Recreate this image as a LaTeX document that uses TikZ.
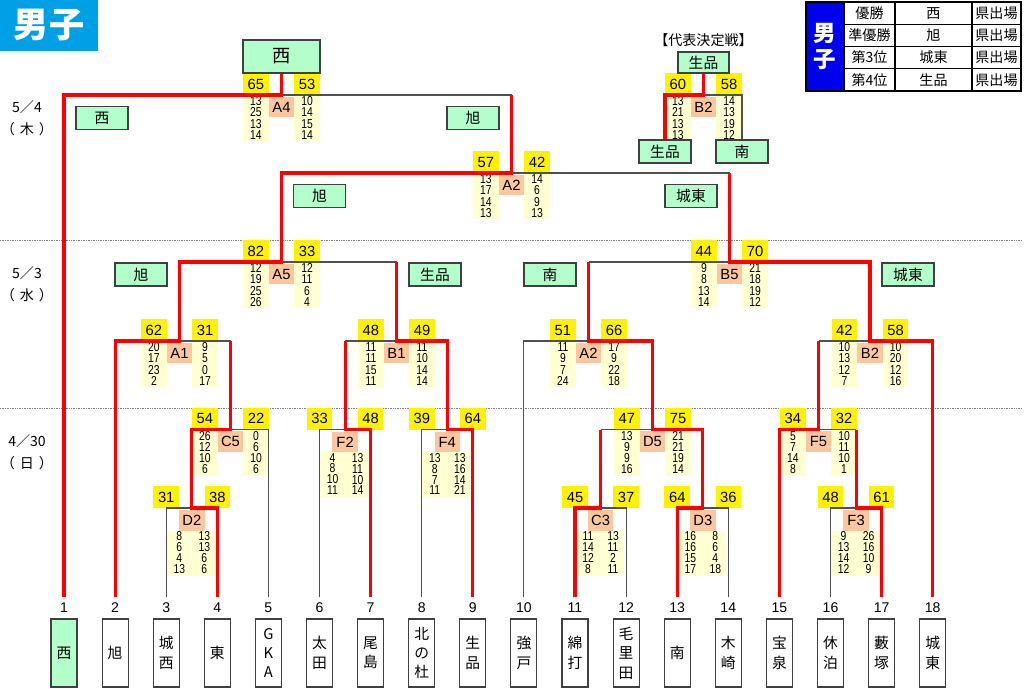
\documentclass[tikz,border=0pt]{standalone}
\usepackage{tikz}
\usepackage{fontspec}
\setmainfont{Noto Sans CJK JP}
\newfontfamily\numfont{Liberation Sans}
\newfontfamily\qtrfont{Liberation Sans}[FakeStretch=0.8]
\definecolor{titleblue}{HTML}{00A0E6}
\definecolor{legblue}{HTML}{0000F0}
\definecolor{mint}{HTML}{B3FFCC}
\definecolor{peach}{HTML}{FCC79F}
\definecolor{pale}{HTML}{FFFFD2}
\definecolor{linegray}{HTML}{505050}
\definecolor{boxgray}{HTML}{404040}

\begin{document}
\begin{tikzpicture}[x=0.025cm,y=-0.025cm,
	win/.style={draw=red,line width=2.2pt},
	lose/.style={draw=linegray,line width=0.8pt},
	daysep/.style={draw=gray,line width=0.6pt,dash pattern=on 0.6pt off 0.6pt},
	team/.style={draw=boxgray,fill=mint,line width=0.9pt,inner sep=0pt,minimum width=1.3cm,minimum height=0.575cm,font=\fontsize{10.5}{12}\selectfont},
	sc/.style={fill=yellow,inner sep=0pt,minimum width=0.64cm,minimum height=0.54cm,font=\numfont\fontsize{10.5}{12}\selectfont},
	lab/.style={fill=peach,inner sep=0pt,minimum width=0.64cm,minimum height=0.51cm,font=\numfont\fontsize{10.5}{12}\selectfont},
	qcol/.style={fill=pale,inner sep=0pt,minimum width=0.64cm,minimum height=1.15cm,align=center,font=\qtrfont\fontsize{9.2}{8}\selectfont},
	qbox/.style={fill=pale,inner sep=0pt,minimum width=1.2cm,minimum height=1.125cm},
	qtxt/.style={inner sep=0pt,align=center,font=\qtrfont\fontsize{9.2}{7.8}\selectfont},
	entry/.style={draw=boxgray,line width=0.8pt,inner sep=0pt,minimum width=0.65cm,minimum height=1.7cm,align=center,font=\fontsize{10.5}{13.8}\selectfont},
	num/.style={inner sep=0pt,font=\numfont\fontsize{10}{12}\selectfont},
	date/.style={inner sep=0pt,font=\fontsize{10}{12}\selectfont},
	cell/.style={inner sep=0pt,font=\fontsize{10}{12}\selectfont}]

	\path[fill=white,use as bounding box] (0,0) rectangle (1024,689);

	\node[fill=titleblue,text=white,inner sep=0pt,minimum width=2.45cm,minimum height=1.275cm,font=\bfseries\fontsize{25}{25}\selectfont] (title) at (49,25.5) {男子};

	\draw[daysep] (0,240.5) -- (1022,240.5);
	\draw[daysep] (0,408) -- (1022,408);

	\node[date] (d1) at (27,107) {5／4};
	\node[date] (d1w) at (27,129) {（\hspace{0.35em}木\hspace{0.35em}）};
	\node[date] (d2) at (27,273) {5／3};
	\node[date] (d2w) at (27,295) {（\hspace{0.35em}水\hspace{0.35em}）};
	\node[date] (d3) at (27,441) {4／30};
	\node[date] (d3w) at (27,463) {（\hspace{0.35em}日\hspace{0.35em}）};

	\foreach \id/\cx/\ty/\lab/\sa/\sb/\qa/\qb in {
		A4/281.5/95/A4/65/53/{13\\25\\13\\14}/{10\\14\\15\\14},
		dB2/703.5/95/B2/60/58/{13\\21\\13\\13}/{14\\13\\19\\12},
		sA2/511.5/173/A2/57/42/{13\\17\\14\\13}/{14\\6\\9\\13},
		A5/281.5/262/A5/82/33/{12\\19\\25\\26}/{12\\11\\6\\4},
		B5/729.5/262/B5/44/70/{9\\8\\13\\14}/{21\\18\\19\\12},
		A1/179.5/341/A1/62/31/{20\\17\\23\\2}/{9\\5\\0\\17},
		B1/396.5/341/B1/48/49/{11\\11\\15\\11}/{11\\10\\14\\14},
		A2/588.5/341/A2/51/66/{11\\9\\7\\24}/{17\\9\\22\\18},
		B2/870/341/B2/42/58/{10\\13\\12\\7}/{10\\20\\12\\16},
		C5/230.5/429.5/C5/54/22/{26\\12\\10\\6}/{0\\6\\10\\6},
		D5/652.5/429.5/D5/47/75/{13\\9\\9\\16}/{21\\21\\19\\14},
		F5/818.5/429.5/F5/34/32/{5\\7\\14\\8}/{10\\11\\10\\1}}
	{
		\coordinate (\id) at (\cx,\ty);
		\node[sc] (\id-a) at (\cx-25.6,\ty-10.8) {\sa};
		\node[sc] (\id-b) at (\cx+25.6,\ty-10.8) {\sb};
		\node[lab] (\id-l) at (\cx,\ty+12) {\lab};
		\node[qcol] (\id-qa) at (\cx-25.6,\ty+23) {\qa};
		\node[qcol] (\id-qb) at (\cx+25.6,\ty+23) {\qb};
	}

	\foreach \id/\cx/\ty/\sa/\sb/\qa/\qb in {
		D2/191.8/508/31/38/{8\\6\\4\\13}/{13\\13\\6\\6},
		F2/345.1/429.5/33/48/{4\\8\\10\\11}/{13\\11\\10\\14},
		F4/447.3/429.5/39/64/{13\\8\\7\\11}/{13\\16\\14\\21},
		C3/600.6/508/45/37/{11\\14\\12\\8}/{13\\11\\2\\11},
		D3/702.8/508/64/36/{16\\16\\15\\17}/{8\\6\\4\\18},
		F3/856.1/508/48/61/{9\\13\\14\\12}/{26\\16\\10\\9}}
	{
		\coordinate (\id) at (\cx,\ty);
		\node[sc] (\id-a) at (\cx-25.55,\ty-10.8) {\sa};
		\node[sc] (\id-b) at (\cx+25.55,\ty-10.8) {\sb};
		\node[lab] (\id-l) at (\cx,\ty+12.5) {\id};
		\node[qbox] (\id-q) at (\cx-1,\ty+45.5) {};
		\node[qtxt] (\id-qa) at (\cx-12.5,\ty+44.5) {\qa};
		\node[qtxt] (\id-qb) at (\cx+12.5,\ty+44.5) {\qb};
	}

	\foreach \i/\name/\col in {1/西/mint,2/旭/white,3/城\\西/white,4/東/white,5/G\\K\\A/white,6/太\\田/white,7/尾\\島/white,8/北\\の\\杜/white,9/生\\品/white,10/強\\戸/white,11/綿\\打/white,12/毛\\里\\田/white,13/南/white,14/木\\崎/white,15/宝\\泉/white,16/休\\泊/white,17/藪\\塚/white,18/城\\東/white}
	{
		\coordinate (e\i) at ({64+51.1*(\i-1)},597);
		\node[num] (n\i) at ({64+51.1*(\i-1)},608) {\i};
		\node[entry,fill=\col] (t\i) at ({64+51.1*(\i-1)},653) {\name};
	}

	\node[team,minimum width=1.925cm,minimum height=0.825cm,font=\fontsize{13}{14}\selectfont] (champ) at (281.5,56.5) {西};
	\node[font=\fontsize{10}{12}\selectfont,inner sep=0pt] (dtitle) at (703.5,40) {【代表決定戦】};
	\node[team,minimum width=1.275cm,minimum height=0.525cm] (dw) at (703.5,62.5) {生品};
	\node[team] (dl) at (665,151.5) {生品};
	\node[team] (dr) at (742,151.5) {南};

	\foreach \id/\x/\y/\name in {lA4/102/118/西,rA4/473/118/旭,lsA2/319.5/196/旭,rsA2/691/196/城東,lA5/141/274.5/旭,rA5/435/274.5/生品,lB5/550/274.5/南,rB5/908/274.5/城東}
		\node[team] (\id) at (\x,\y) {\name};

	\draw[lose] (A4) -- (A4 -| sA2);
	\draw[lose] (sA2) -- (sA2 -| B5);
	\draw[lose] (A5) -- (A5 -| B1);
	\draw[lose] (B5) -- (B5 -| A2);
	\draw[lose] (A1) -- (A1 -| C5);
	\draw[lose] (B1) -- (B1 -| F2);
	\draw[lose] (B2) -- (B2 -| F5);
	\draw[lose] (D5) -- (D5 -| C3);
	\draw[lose] (F5) -- (F5 -| F3);
	\draw[lose] (e3) |- (D2);
	\draw[lose] (e5) |- (C5);
	\draw[lose] (e6) |- (F2);
	\draw[lose] (e8) |- (F4);
	\draw[lose] (e10) |- (A2);
	\draw[lose] (e12) |- (C3);
	\draw[lose] (e14) |- (D3);
	\draw[lose] (e16) |- (F3);
	\draw[lose] (dB2) -| (dr.north);

	\draw[win] (e1) |- (A4) -- (champ.south);
	\draw[win] (e2) |- (A1) |- (A5) |- (sA2) -- (sA2 |- A4);
	\draw[win] (e4) |- (D2) |- (C5) -- (C5 |- A1);
	\draw[win] (e7) |- (F2) -- (F2 |- B1);
	\draw[win] (e9) |- (F4) |- (B1) -- (B1 |- A5);
	\draw[win] (e11) |- (C3) -- (C3 |- D5);
	\draw[win] (e13) |- (D3) |- (D5) |- (A2) -- (A2 |- B5);
	\draw[win] (e15) |- (F5) -- (F5 |- B2);
	\draw[win] (e17) |- (F3) -- (F3 |- F5);
	\draw[win] (e18) |- (B2) |- (B5) -- (B5 |- sA2);
	\draw[win] (dl.north) |- (dB2) -- (dw.south);

	\begin{scope}[shift={(806,2)}]
		\node[fill=legblue,text=white,inner sep=0pt,minimum width=0.95cm,minimum height=2.225cm,align=center,font=\bfseries\fontsize{16}{18}\selectfont] (legtitle) at (19,44.5) {男\\子};
		\foreach \r/\rank/\team in {0/優勝/西,1/準優勝/旭,2/第3位/城東,3/第4位/生品}
		{
			\node[cell] (rk\r) at (63.5,{11.1+22.25*\r}) {\rank};
			\node[cell] (tm\r) at (127.5,{11.1+22.25*\r}) {\team};
			\node[cell] (st\r) at (190.5,{11.1+22.25*\r}) {県出場};
		}
		\draw[line width=0.9pt] (0,0) rectangle (215,89);
		\foreach \y in {22.25,44.5,66.75}
			\draw[line width=0.9pt] (38,\y) -- (215,\y);
		\foreach \x in {38,89,166}
			\draw[line width=0.9pt] (\x,0) -- (\x,89);
	\end{scope}
\end{tikzpicture}
\end{document}
